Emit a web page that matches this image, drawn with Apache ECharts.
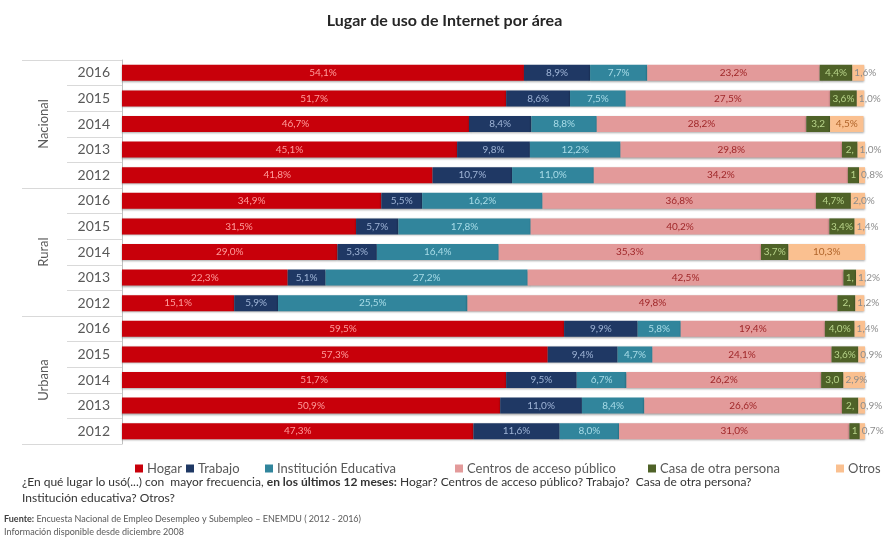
<!DOCTYPE html>
<html>
<head>
<meta charset="utf-8">
<script src="https://cdn.jsdelivr.net/npm/echarts@6/dist/echarts.min.js"></script>
<style>
  html, body { margin: 0; padding: 0; background: #ffffff; }
  #chart { width: 889px; height: 549px; }
</style>
</head>
<body>
<div id="chart"></div>
<script>
// Rows, top to bottom: each area with its years
const areas = ['Nacional', 'Rural', 'Urbana'];
const years = ['2016', '2015', '2014', '2013', '2012'];

// Percentages per place of use (same row order as above)
const hogar   = [54.1, 51.7, 46.7, 45.1, 41.8, 34.9, 31.5, 29.0, 22.3, 15.1, 59.5, 57.3, 51.7, 50.9, 47.3];
const trabajo = [8.9, 8.6, 8.4, 9.8, 10.7, 5.5, 5.7, 5.3, 5.1, 5.9, 9.9, 9.4, 9.5, 11.0, 11.6];
const institucion = [7.7, 7.5, 8.8, 12.2, 11.0, 16.2, 17.8, 16.4, 27.2, 25.5, 5.8, 4.7, 6.7, 8.4, 8.0];
const centros = [23.2, 27.5, 28.2, 29.8, 34.2, 36.8, 40.2, 35.3, 42.5, 49.8, 19.4, 24.1, 26.2, 26.6, 31.0];
const casa    = [4.4, 3.6, 3.2, 2.1, 1.5, 4.7, 3.4, 3.7, 1.7, 2.4, 4.0, 3.6, 3.0, 2.2, 1.4];
const otros   = [1.6, 1.0, 4.5, 1.0, 0.8, 2.0, 1.4, 10.3, 1.2, 1.2, 1.4, 0.9, 2.9, 0.9, 0.7];

const seriesNames = ['Hogar', 'Trabajo', 'Institución Educativa', 'Centros de acceso público', 'Casa de otra persona', 'Otros'];
const seriesValues = [hogar, trabajo, institucion, centros, casa, otros];
const colors = ['#c8000a', '#1f3864', '#31859c', '#e39a9a', '#4f6228', '#fac090'];
const labelColors = ['#ff9c9c', '#9fb4d6', '#a8dce8', '#a0282a', '#b8d48a', '#b0642a'];

const rowKeys = [];
areas.forEach(a => years.forEach(y => rowKeys.push(a + '|' + y)));

const fmt = v => v.toFixed(1).replace('.', ',') + '%';
const PLOT_W = 743; // plot width in px for 100 %

const series = seriesNames.map((name, si) => ({
  name: name,
  type: 'bar',
  stack: 'total',
  barWidth: 16,
  itemStyle: {
    color: colors[si],
    shadowColor: 'rgba(0,0,0,0.35)',
    shadowBlur: 2,
    shadowOffsetY: 1
  },
  data: seriesValues[si].map(v => {
    const item = { value: v };
    if (si === 4) {
      item.label = { width: Math.max(v / 100 * PLOT_W - 2, 4), overflow: 'truncate', ellipsis: '' };
    }
    if (si === 5) {
      if (v < 3) {
        item.label = { position: 'insideLeft', distance: 2, color: '#8c8c8c' };
      } else {
        item.label = { position: 'inside', color: labelColors[5] };
      }
    }
    return item;
  }),
  label: {
    show: true,
    position: 'inside',
    fontFamily: 'Lato',
    fontSize: 10,
    color: labelColors[si],
    formatter: p => fmt(p.value)
  }
}));

const chart = echarts.init(document.getElementById('chart'), null, { renderer: 'canvas' });

const legendX = [130, 181, 260, 450, 643, 831];

chart.setOption({
  animation: false,
  textStyle: { fontFamily: 'Lato' },
  title: {
    text: 'Lugar de uso de Internet por área',
    left: 'center',
    top: 8,
    textStyle: { fontFamily: 'Lato', fontSize: 16, fontWeight: 'bold', color: '#262626' }
  },
  grid: { left: 122, right: 24, top: 60, bottom: 105 },
  xAxis: { type: 'value', min: 0, max: 100, show: false },
  yAxis: [
    {
      type: 'category',
      data: rowKeys,
      inverse: true,
      axisLine: { show: true, lineStyle: { color: '#bfbfbf' } },
      axisTick: { show: true, length: 55, lineStyle: { color: '#d9d9d9' } },
      axisLabel: {
        fontFamily: 'Lato', fontSize: 14, color: '#595959', margin: 12,
        formatter: v => v.split('|')[1]
      }
    },
    {
      type: 'category',
      data: areas,
      inverse: true,
      position: 'left',
      axisLine: { show: false },
      axisTick: { show: true, length: 100, lineStyle: { color: '#d9d9d9' } },
      axisLabel: {
        fontFamily: 'Lato', fontSize: 13, color: '#595959', margin: 72, rotate: 90
      }
    }
  ],
  legend: seriesNames.map((name, i) => ({
    data: [name],
    left: legendX[i],
    top: 457,
    itemWidth: 8,
    itemHeight: 8,
    itemGap: 4,
    icon: 'rect',
    textStyle: { fontFamily: 'Lato', fontSize: 13, color: '#595959', padding: [0, 0, 0, -1] }
  })),
  graphic: [
    {
      type: 'text', left: 22, top: 476,
      style: {
        text: '{n|¿En qué lugar lo usó(...) con  mayor frecuencia, }{b|en los últimos 12 meses:}{n| Hogar? Centros de acceso público? Trabajo?  Casa de otra persona?}',
        rich: {
          n: { fontFamily: 'Lato', fontSize: 12, fill: '#333333' },
          b: { fontFamily: 'Lato', fontSize: 12, fontWeight: 'bold', fill: '#333333' }
        }
      }
    },
    {
      type: 'text', left: 22, top: 492,
      style: { text: 'Institución educativa? Otros?', fontFamily: 'Lato', fontSize: 12, fill: '#333333' }
    },
    {
      type: 'text', left: 4, top: 515,
      style: {
        text: '{b|Fuente:}{n| Encuesta Nacional de Empleo Desempleo y Subempleo – ENEMDU ( 2012 - 2016)}',
        rich: {
          n: { fontFamily: 'Lato', fontSize: 9, fill: '#595959' },
          b: { fontFamily: 'Lato', fontSize: 9, fontWeight: 'bold', fill: '#404040' }
        }
      }
    },
    {
      type: 'text', left: 4, top: 528,
      style: { text: 'Información disponible desde diciembre 2008', fontFamily: 'Lato', fontSize: 9, fill: '#595959' }
    }
  ],
  series: series
});
</script>
</body>
</html>
